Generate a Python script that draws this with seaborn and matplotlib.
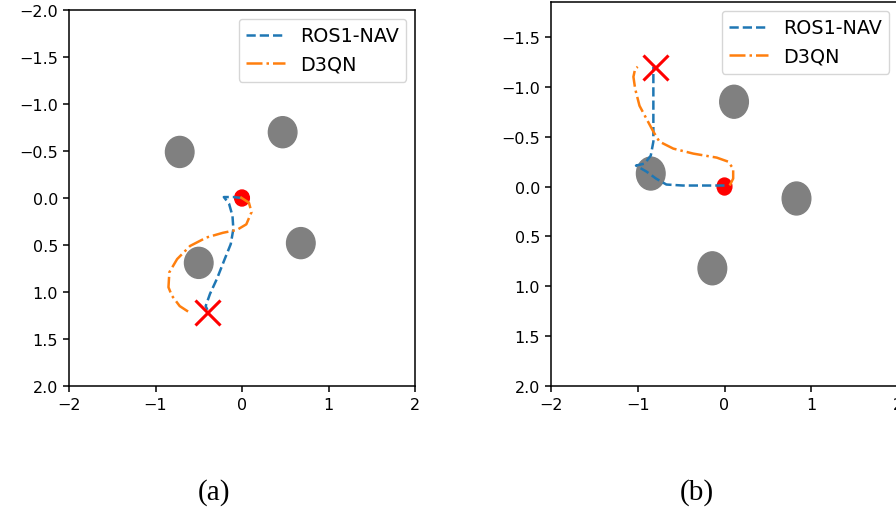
import matplotlib
matplotlib.use('Agg')
import matplotlib.pyplot as plt
from matplotlib.patches import Circle
import seaborn as sns

# panel (a)
a_obst_x = [-0.72, 0.47, 0.68, -0.50]
a_obst_y = [-0.49, -0.70, 0.48, 0.69]
a_start = (0.0, 0.0)
a_goal = (-0.40, 1.21)
a_ros_x = [0.0, -0.10, -0.21, -0.15, -0.11, -0.10, -0.13, -0.20, -0.29, -0.37, -0.42, -0.40]
a_ros_y = [0.0, -0.01, -0.01, 0.06, 0.19, 0.33, 0.49, 0.65, 0.86, 1.02, 1.15, 1.19]
a_d3_x = [-0.02, 0.08, 0.11, 0.05, -0.06, -0.22, -0.41, -0.60, -0.75, -0.84, -0.85, -0.81, -0.72, -0.62]
a_d3_y = [-0.01, 0.05, 0.15, 0.28, 0.34, 0.37, 0.42, 0.51, 0.65, 0.79, 0.95, 1.04, 1.15, 1.21]

# panel (b)
b_obst_x = [0.11, -0.85, 0.83, -0.14]
b_obst_y = [-0.85, -0.13, 0.12, 0.82]
b_start = (0.0, 0.0)
b_goal = (-0.80, -1.20)
b_ros_x = [0.0, -0.21, -0.48, -0.67, -0.79, -0.90, -1.02, -0.92, -0.85, -0.82, -0.82, -0.82, -0.82, -0.82]
b_ros_y = [-0.01, -0.01, -0.01, -0.02, -0.08, -0.15, -0.21, -0.23, -0.31, -0.45, -0.65, -0.91, -1.15, -1.20]
b_d3_x = [0.06, 0.10, 0.10, 0.04, -0.09, -0.36, -0.59, -0.75, -0.82, -0.90, -0.98, -1.03, -1.05, -1.03, -1.00]
b_d3_y = [-0.01, -0.08, -0.18, -0.25, -0.29, -0.33, -0.38, -0.45, -0.55, -0.68, -0.81, -0.98, -1.10, -1.18, -1.20]

fig = plt.figure(figsize=(8.96, 5.10), dpi=100)
ax_a = fig.add_axes([69 / 896, 123 / 510, 346 / 896, 376 / 510])
ax_b = fig.add_axes([551 / 896, 123 / 510, 347 / 896, 384 / 510])


def draw_panel(ax, obst_x, obst_y, start, goal, ros_x, ros_y, d3_x, d3_y, ylim, yticks):
    for ox, oy in zip(obst_x, obst_y):
        ax.add_patch(Circle((ox, oy), 0.165, color='gray', zorder=1))
    ax.add_patch(Circle(start, 0.085, color='red', zorder=2))
    sns.lineplot(x=ros_x, y=ros_y, sort=False, estimator=None, ax=ax,
                 color='#1f77b4', linestyle='--', linewidth=1.8, label='ROS1-NAV', zorder=3)
    sns.lineplot(x=d3_x, y=d3_y, sort=False, estimator=None, ax=ax,
                 color='#ff7f0e', linestyle='-.', linewidth=1.8, label='D3QN', zorder=3)
    ax.plot([goal[0]], [goal[1]], marker='x', color='red', markersize=18,
            markeredgewidth=2.2, linestyle='none', zorder=4)
    ax.set_xlim(-2, 2)
    ax.set_ylim(*ylim)
    ax.set_xticks([-2, -1, 0, 1, 2])
    ax.set_yticks(yticks)
    ax.tick_params(labelsize=11.5, width=1.1, length=4.5)
    for sp in ax.spines.values():
        sp.set_linewidth(1.1)
    ax.set_xlabel('')
    ax.set_ylabel('')
    ax.legend(loc='upper right', fontsize=13.8, borderaxespad=0.45)


draw_panel(ax_a, a_obst_x, a_obst_y, a_start, a_goal, a_ros_x, a_ros_y, a_d3_x, a_d3_y,
           (2, -2), [-2.0, -1.5, -1.0, -0.5, 0.0, 0.5, 1.0, 1.5, 2.0])
draw_panel(ax_b, b_obst_x, b_obst_y, b_start, b_goal, b_ros_x, b_ros_y, b_d3_x, b_d3_y,
           (2, -1.85), [-1.5, -1.0, -0.5, 0.0, 0.5, 1.0, 1.5, 2.0])

fig.text(214 / 896, 1 - 493 / 510, '(a)', family='Liberation Serif', fontsize=21,
         ha='center', va='center')
fig.text(697 / 896, 1 - 493 / 510, '(b)', family='Liberation Serif', fontsize=21,
         ha='center', va='center')

fig.savefig('out.png', dpi=100)
